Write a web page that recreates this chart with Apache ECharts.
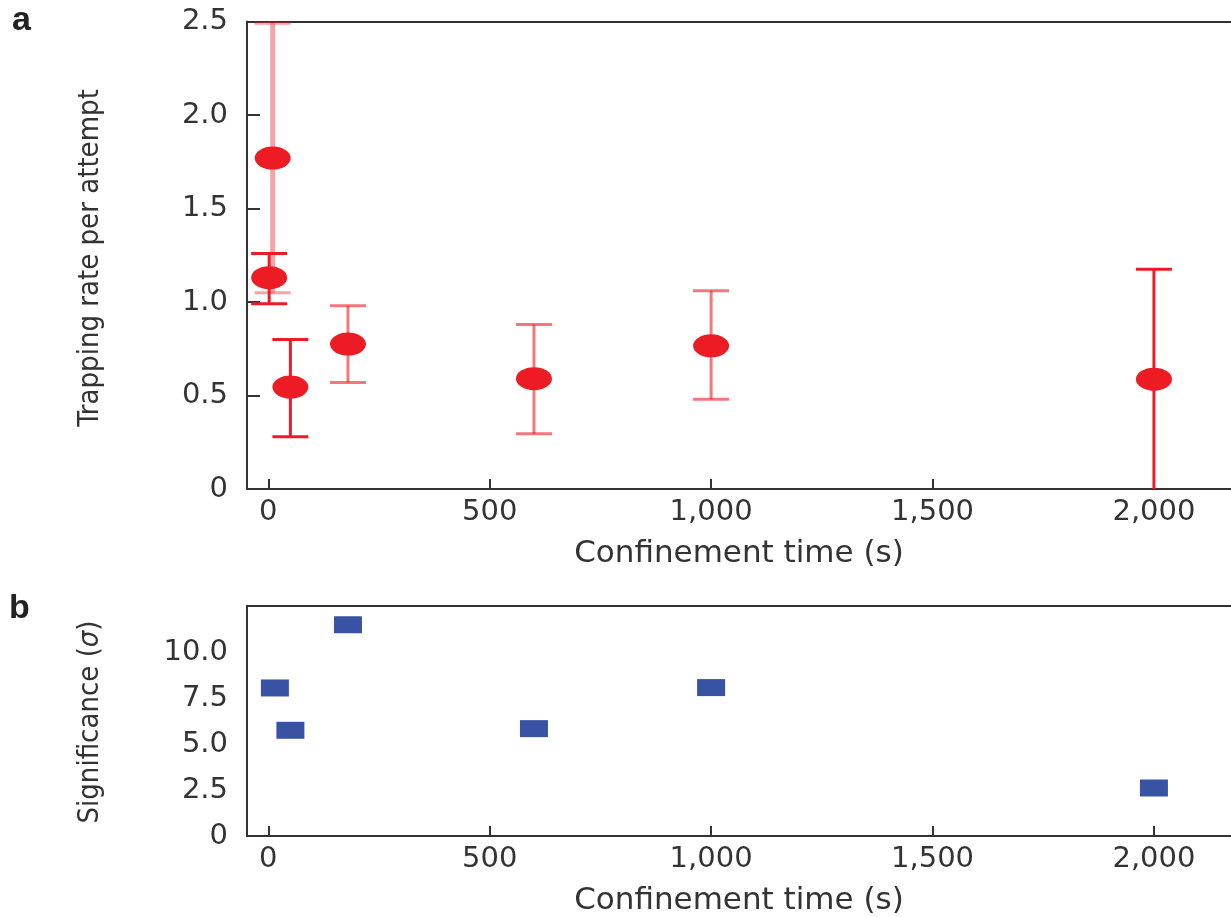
<!DOCTYPE html>
<html>
<head>
<meta charset="utf-8">
<title>Trapping rate and significance vs confinement time</title>
<script src="https://cdn.jsdelivr.net/npm/echarts@6/dist/echarts.min.js"></script>
<style>
  html, body { margin: 0; padding: 0; background: #fff; }
  #main { width: 1231px; height: 917px; }
</style>
</head>
<body>
<div id="main"></div>
<script>
// panel a: trapping rate per attempt, with error bars
var times = [10, 2, 50, 180, 600, 1000, 2000];
var rates = [1.77, 1.13, 0.545, 0.775, 0.59, 0.766, 0.587];
var rateLow = [1.05, 0.99, 0.28, 0.57, 0.295, 0.48, 0];
var rateHigh = [2.49, 1.26, 0.80, 0.98, 0.88, 1.06, 1.175];

// panel b: significance
var sigTimes = [15, 50, 180, 600, 1000, 2000];
var sigma = [8.08, 5.77, 11.53, 5.86, 8.10, 2.62];

// tick labels
var xTicks = [0, 500, 1000, 1500, 2000];
var sigTicks = [0, 2.5, 5, 7.5, 10];

var red = '#ED1C24';
var blue = '#3953A4';
var ink = '#333';
// which error bars are drawn faded in the original
var faded = [0, 3, 4, 5];

var myChart = echarts.init(document.getElementById('main'));

var tickFont = { fontFamily: 'DejaVu Sans', fontSize: 29, color: ink };
var nameFont = { fontFamily: 'DejaVu Sans', fontSize: 31, color: ink };
var narrowFont = { fontFamily: '"DejaVu Sans Condensed", sans-serif', fontSize: 29, color: ink };

function thousands(v) {
    return String(v).replace(/\B(?=(\d{3})+(?!\d))/g, ',');
}
function oneDecimal(v) {
    return v === 0 ? '0' : v.toFixed(1);
}

var xMin = -48, xMax = 2174;

function bottomX(grid) {
    return {
        type: 'value', gridIndex: grid, position: 'bottom',
        min: xMin, max: xMax,
        name: 'Confinement time (s)', nameLocation: 'middle', nameGap: 49,
        nameTextStyle: nameFont,
        axisLine: { onZero: false, lineStyle: { color: ink, width: 2 } },
        axisTick: { inside: true, length: 10, customValues: xTicks, lineStyle: { color: ink, width: 2 } },
        axisLabel: { customValues: xTicks, formatter: thousands, margin: 9, fontFamily: tickFont.fontFamily, fontSize: tickFont.fontSize, color: ink },
        splitLine: { show: false }
    };
}
function topBorder(grid) {
    return {
        type: 'value', gridIndex: grid, position: 'top',
        min: xMin, max: xMax,
        axisLine: { onZero: false, lineStyle: { color: ink, width: 2 } },
        axisTick: { show: false }, axisLabel: { show: false }, splitLine: { show: false }
    };
}

var errData = times.map(function (t, i) { return [t, rateLow[i], rateHigh[i], i]; });

var option = {
    backgroundColor: '#fff',
    animation: false,
    grid: [
        { left: 247, right: 0, top: 21.5, height: 467.5 },
        { left: 247, right: 0, top: 605.7, height: 233.3 }
    ],
    xAxis: [bottomX(0), topBorder(0), bottomX(1), topBorder(1)],
    yAxis: [
        {
            type: 'value', gridIndex: 0, min: 0, max: 2.5, interval: 0.5,
            axisLine: { show: true, onZero: false, lineStyle: { color: ink, width: 2 } },
            axisTick: { show: true, inside: true, length: 13, lineStyle: { color: ink, width: 2 } },
            axisLabel: { formatter: oneDecimal, margin: 19, fontFamily: tickFont.fontFamily, fontSize: tickFont.fontSize, color: ink },
            splitLine: { show: false }
        },
        {
            type: 'value', gridIndex: 1, min: 0, max: 12.57,
            axisLine: { show: true, onZero: false, lineStyle: { color: ink, width: 2 } },
            axisTick: { show: false },
            axisLabel: { customValues: sigTicks, formatter: oneDecimal, margin: 19, fontFamily: tickFont.fontFamily, fontSize: tickFont.fontSize, color: ink },
            splitLine: { show: false }
        }
    ],
    graphic: [
        { type: 'text', left: 12, top: 4, style: { text: 'a', fontFamily: 'Liberation Sans', fontWeight: 'bold', fontSize: 34, fill: '#222' } },
        { type: 'text', left: 9, top: 592, style: { text: 'b', fontFamily: 'Liberation Sans', fontWeight: 'bold', fontSize: 34, fill: '#222' } },
        {
            type: 'text', x: 90, y: 258, rotation: Math.PI / 2,
            style: { text: 'Trapping rate per attempt', fontFamily: narrowFont.fontFamily, fontSize: narrowFont.fontSize, fill: ink, align: 'center', verticalAlign: 'middle' }
        },
        {
            type: 'text', x: 90, y: 722, rotation: Math.PI / 2,
            style: {
                text: 'Significance ({i|σ})', fontFamily: narrowFont.fontFamily, fontSize: narrowFont.fontSize, fill: ink, align: 'center', verticalAlign: 'middle',
                rich: { i: { fontFamily: narrowFont.fontFamily, fontSize: narrowFont.fontSize, fontStyle: 'italic', fill: ink } }
            }
        }
    ],
    series: [
        {
            // error bars
            type: 'custom', xAxisIndex: 0, yAxisIndex: 0, z: 2,
            data: errData,
            renderItem: function (params, api) {
                var x = api.value(0);
                var lo = api.value(1);
                var hi = api.value(2);
                var idx = api.value(3);
                var pLo = api.coord([x, lo]);
                var pHi = api.coord([x, hi]);
                var half = 18;
                var isFaded = faded.indexOf(idx) >= 0;
                var color = idx === 0 ? 'rgba(237,28,36,0.4)' : (isFaded ? 'rgba(237,28,36,0.6)' : red);
                var style = { stroke: color, lineWidth: idx === 0 ? 5 : 3 };
                var capStyle = { stroke: color, lineWidth: 3 };
                var children = [
                    { type: 'line', shape: { x1: pLo[0], y1: pLo[1], x2: pHi[0], y2: pHi[1] }, style: style },
                    { type: 'line', shape: { x1: pHi[0] - half, y1: pHi[1], x2: pHi[0] + half, y2: pHi[1] }, style: capStyle }
                ];
                if (lo > 0) {
                    children.push({ type: 'line', shape: { x1: pLo[0] - half, y1: pLo[1], x2: pLo[0] + half, y2: pLo[1] }, style: capStyle });
                }
                return { type: 'group', children: children };
            }
        },
        {
            type: 'scatter', xAxisIndex: 0, yAxisIndex: 0, z: 3,
            symbol: 'circle', symbolSize: [36, 23],
            itemStyle: { color: red, opacity: 1 },
            data: times.map(function (t, i) { return [t, rates[i]]; })
        },
        {
            type: 'scatter', xAxisIndex: 2, yAxisIndex: 1, z: 3,
            symbol: 'rect', symbolSize: [28, 17],
            itemStyle: { color: blue, opacity: 1 },
            data: sigTimes.map(function (t, i) { return [t, sigma[i]]; })
        }
    ]
};

myChart.setOption(option);
</script>
</body>
</html>
